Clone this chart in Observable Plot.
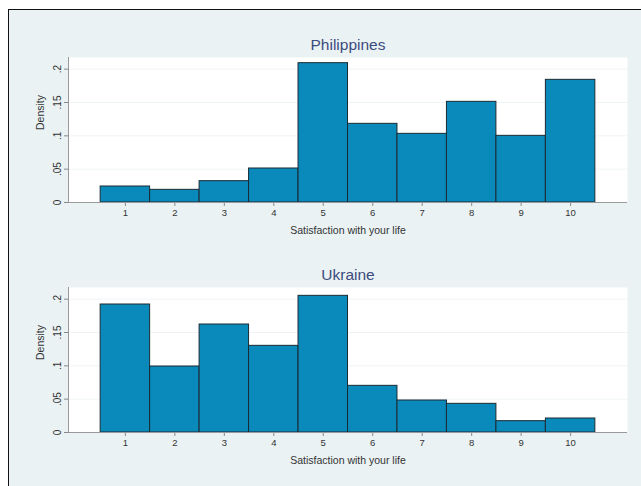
<!DOCTYPE html>
<html>
<head>
<meta charset="utf-8">
<script src="https://cdn.jsdelivr.net/npm/d3@7"></script>
<script src="https://cdn.jsdelivr.net/npm/@observablehq/plot@0.6"></script>
<style>
  html, body { margin: 0; padding: 0; background: #ffffff; width: 641px; height: 486px; overflow: hidden; }
  #frame { position: absolute; left: 8px; top: 9px; width: 640px; height: 490px;
           border-left: 1.5px solid #111; border-top: 1.5px solid #111; background: #eaf2f3; }
  .panel { position: absolute; left: 0; }
  svg { font-family: "Liberation Sans", Arial, sans-serif; }
</style>
</head>
<body>
<div id="frame"></div>
<div id="p1" class="panel" style="top:0px"></div>
<div id="p2" class="panel" style="top:230px"></div>
<script>
const scores = [1, 2, 3, 4, 5, 6, 7, 8, 9, 10];
const philippines = [0.024, 0.019, 0.032, 0.051, 0.209, 0.118, 0.103, 0.151, 0.100, 0.184];
const ukraine = [0.192, 0.099, 0.162, 0.130, 0.205, 0.070, 0.048, 0.043, 0.017, 0.021];
const yTicks = [0, 0.05, 0.1, 0.15, 0.2];
const xLabel = "Satisfaction with your life";
const yLabel = "Density";

function fmtY(d) { return d === 0 ? "0" : String(d).replace(/^0/, ""); }

function panel(title, values) {
  const data = scores.map((s, i) => ({score: s, density: values[i]}));
  return Plot.plot({
    width: 641,
    height: 240,
    marginLeft: 68,
    marginRight: 14,
    marginTop: 57,
    marginBottom: 38,
    style: {background: "transparent", fontFamily: "Liberation Sans, Arial, sans-serif"},
    x: {domain: [-0.15, 11.15]},
    y: {domain: [0, 0.2175]},
    marks: [
      Plot.frame({fill: "white", stroke: null}),
      Plot.ruleY(yTicks.slice(1), {stroke: "#eef4f5", strokeWidth: 1}),
      Plot.rectY(data, {x1: d => d.score - 0.5, x2: d => d.score + 0.5, y: "density",
        fill: "#0a89bb", stroke: "#1b2b33", strokeWidth: 1}),
      Plot.axisY({ticks: yTicks, tickFormat: fmtY, tickRotate: -90, tickSize: 4, tickPadding: 4,
        fontSize: 10, stroke: "#888", color: "#333", label: null}),
      Plot.axisX({ticks: scores, tickFormat: d => String(d), tickSize: 4, tickPadding: 3,
        fontSize: 9.5, stroke: "#888", color: "#333", label: null}),
      Plot.ruleX([-0.15], {stroke: "#999", strokeWidth: 1}),
      Plot.ruleY([0], {stroke: "#999", strokeWidth: 1}),
      Plot.text([xLabel], {frameAnchor: "bottom", lineAnchor: "middle", dy: 28, fontSize: 10.5, fill: "#333", text: d => d}),
      Plot.text([yLabel], {frameAnchor: "left", dx: -28, rotate: -90, fontSize: 10.5, fill: "#333", text: d => d}),
      Plot.text([title], {frameAnchor: "top", lineAnchor: "middle", dy: -12, fontSize: 15.5, fill: "#3c4b7e", text: d => d})
    ]
  });
}

document.getElementById("p1").appendChild(panel("Philippines", philippines));
document.getElementById("p2").appendChild(panel("Ukraine", ukraine));
</script>
</body>
</html>
